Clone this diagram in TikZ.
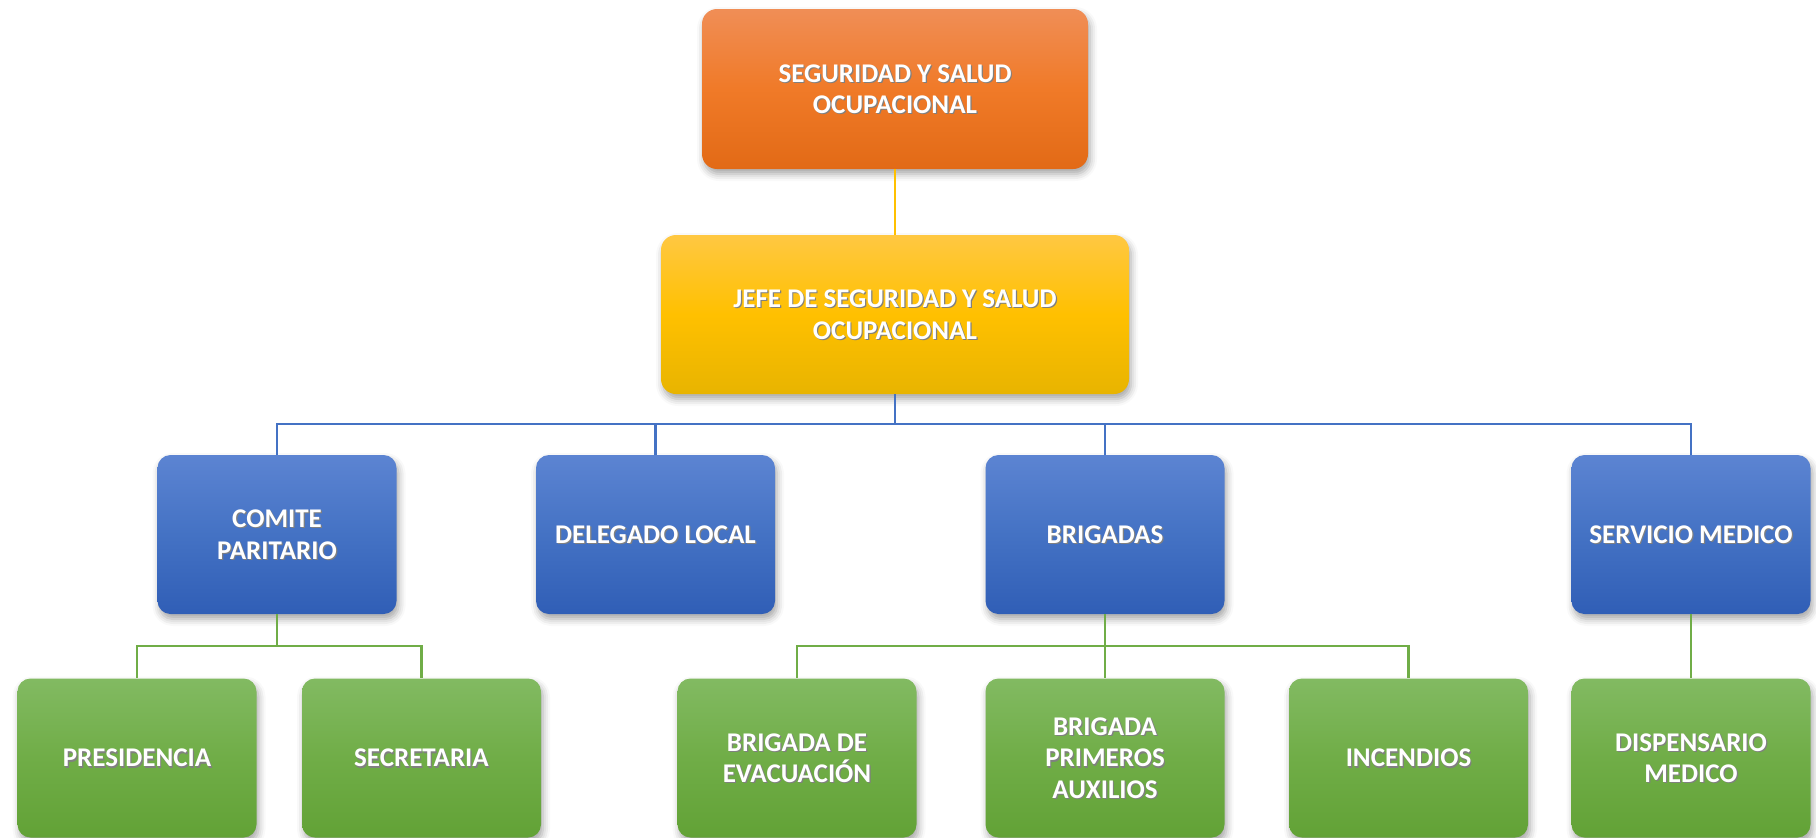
\documentclass[tikz,border=0pt]{standalone}
\usepackage{fontspec}
\setmainfont{Carlito}
\usetikzlibrary{shadows.blur}
\definecolor{orT}{RGB}{240,142,86}
\definecolor{orM}{RGB}{240,122,40}
\definecolor{orB}{RGB}{226,106,22}
\definecolor{yeT}{RGB}{255,200,66}
\definecolor{yeM}{RGB}{255,192,0}
\definecolor{yeB}{RGB}{232,180,0}
\definecolor{blT}{RGB}{92,132,210}
\definecolor{blM}{RGB}{68,114,196}
\definecolor{blB}{RGB}{48,94,182}
\definecolor{grT}{RGB}{130,186,98}
\definecolor{grM}{RGB}{112,173,71}
\definecolor{grB}{RGB}{98,162,54}
\definecolor{lineBlue}{RGB}{68,114,196}
\definecolor{lineGreen}{RGB}{112,173,71}
\definecolor{lineGold}{RGB}{255,192,0}
\colorlet{tsh}{black!50}
\newcommand\tsh[1]{\leavevmode\rlap{\hspace{1.2pt}\raisebox{-1.4pt}[0pt][0pt]{\textcolor{tsh}{#1}}}#1}
\tikzset{
  box/.style={rectangle, rounded corners=13pt, minimum width=239pt, minimum height=159pt,
    text=white, font=\bfseries\fontsize{27}{31.5}\selectfont, align=center, inner sep=0pt,
    blur shadow={shadow xshift=2pt, shadow yshift=-5pt, shadow blur radius=7pt, shadow opacity=35}},
  orangebox/.style={box, top color=orT, bottom color=orB, middle color=orM},
  yellowbox/.style={box, top color=yeT, bottom color=yeB, middle color=yeM},
  bluebox/.style={box, top color=blT, bottom color=blB, middle color=blM},
  greenbox/.style={box, top color=grT, bottom color=grB, middle color=grM},
  goldline/.style={draw=lineGold, line width=2pt},
  blueline/.style={draw=lineBlue, line width=2.5pt},
  greenline/.style={draw=lineGreen, line width=2.5pt},
}
\begin{document}
\begin{tikzpicture}[x=1pt, y=-1pt]
\useasboundingbox (0,0) rectangle (1816,838);
\coordinate (busB) at (0,424);
\coordinate (busG) at (0,646);
% top levels
\node[orangebox, minimum width=386pt, minimum height=160pt, rounded corners=15pt] (ssoc) at (895,89) {\tsh{SEGURIDAD Y SALUD}\\\tsh{OCUPACIONAL}};
\node[yellowbox, minimum width=468pt, minimum height=159pt, rounded corners=15pt] (jefe) at (895,314.5) {\tsh{JEFE DE SEGURIDAD Y SALUD}\\\tsh{OCUPACIONAL}};
% blue level
\node[bluebox] (comite) at (277,534.5) {\tsh{COMITE}\\\tsh{PARITARIO}};
\node[bluebox] (delegado) at (655.5,534.5) {\tsh{DELEGADO LOCAL}};
\node[bluebox] (brigadas) at (1105,534.5) {\tsh{BRIGADAS}};
\node[bluebox] (servicio) at (1691,534.5) {\tsh{SERVICIO MEDICO}};
% green level
\node[greenbox] (presidencia) at (137,758) {\tsh{PRESIDENCIA}};
\node[greenbox] (secretaria) at (421.5,758) {\tsh{SECRETARIA}};
\node[greenbox] (evacuacion) at (797,758) {\tsh{BRIGADA DE}\\\tsh{EVACUACIÓN}};
\node[greenbox] (primeros) at (1105,758) {\tsh{BRIGADA}\\\tsh{PRIMEROS}\\\tsh{AUXILIOS}};
\node[greenbox] (incendios) at (1408.5,758) {\tsh{INCENDIOS}};
\node[greenbox] (dispensario) at (1691,758) {\tsh{DISPENSARIO}\\\tsh{MEDICO}};
% connectors
\draw[goldline] (ssoc.south) -- (jefe.north);
\draw[blueline] (jefe.south) -- (jefe.south |- busB) -| (comite.north);
\draw[blueline] (jefe.south |- busB) -| (delegado.north);
\draw[blueline] (jefe.south |- busB) -| (brigadas.north);
\draw[blueline] (jefe.south |- busB) -| (servicio.north);
\draw[greenline] (comite.south) -- (comite.south |- busG) -| (presidencia.north);
\draw[greenline] (comite.south |- busG) -| (secretaria.north);
\draw[greenline] (brigadas.south) -- (brigadas.south |- busG) -| (evacuacion.north);
\draw[greenline] (brigadas.south |- busG) -| (primeros.north);
\draw[greenline] (brigadas.south |- busG) -| (incendios.north);
\draw[greenline] (servicio.south) -- (dispensario.north);
\end{tikzpicture}
\end{document}
